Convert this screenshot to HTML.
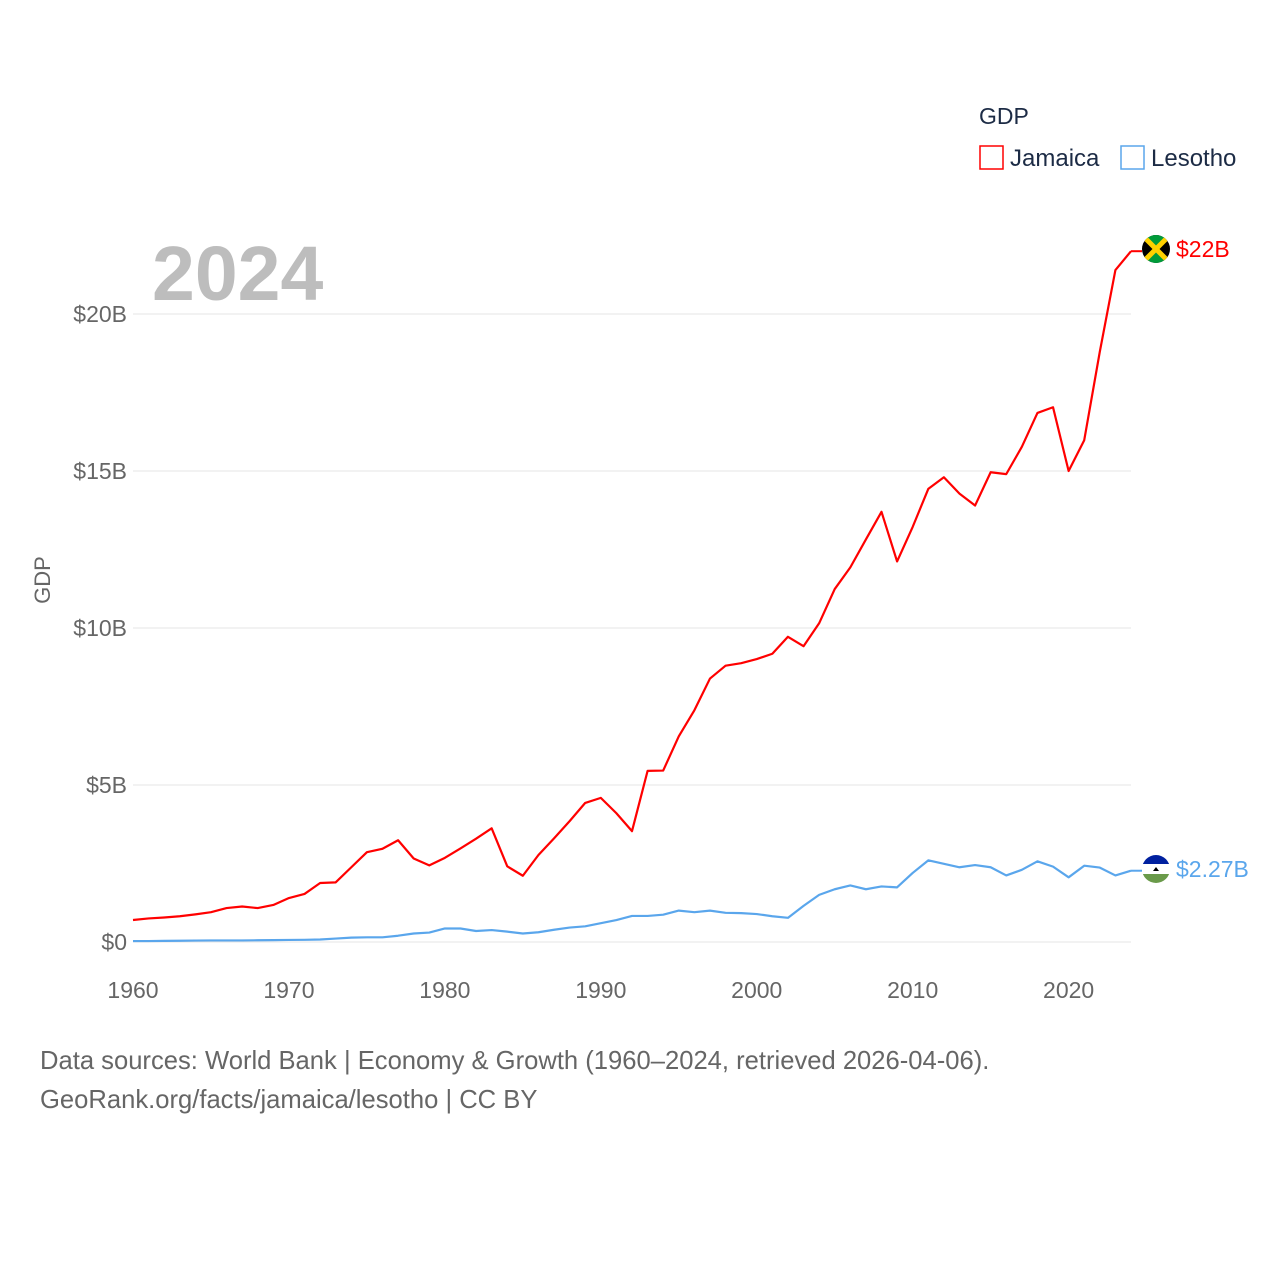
<!DOCTYPE html>
<html><head><meta charset="utf-8"><style>
body{margin:0;background:#fff;font-family:"Liberation Sans",sans-serif}
svg text{font-family:"Liberation Sans",sans-serif}
</style></head><body>
<svg id="chart" width="1280" height="1280" viewBox="0 0 1280 1280">
<g id="grid"></g><g id="axes"></g><g id="lines"></g>
<text x="152" y="300" font-size="77" font-weight="bold" fill="#bdbdbd">2024</text>
<text x="50" y="580" font-size="22" fill="#666" transform="rotate(-90 50 580)" text-anchor="middle">GDP</text>
<text x="979" y="124" font-size="23" fill="#1c2b45">GDP</text>
<g><rect x="980" y="146" width="23" height="23" fill="none" stroke="#f00" stroke-width="1.5"/><text x="1010" y="166" font-size="24" fill="#1c2b45">Jamaica</text></g>
<g><rect x="1121" y="146" width="23" height="23" fill="none" stroke="#5aa6ec" stroke-width="1.5"/><text x="1151" y="166" font-size="24" fill="#1c2b45">Lesotho</text></g>
<g><clipPath id="cj"><circle cx="1156" cy="249" r="14"/></clipPath><g clip-path="url(#cj)"><rect x="1142" y="235" width="28" height="28" fill="#000"/><polygon points="1142,235 1170,235 1156,249" fill="#009b3a"/><polygon points="1142,263 1170,263 1156,249" fill="#009b3a"/><line x1="1142" y1="235" x2="1170" y2="263" stroke="#fed100" stroke-width="5"/><line x1="1170" y1="235" x2="1142" y2="263" stroke="#fed100" stroke-width="5"/></g></g>
<g><clipPath id="cl"><circle cx="1156" cy="869" r="14"/></clipPath><g clip-path="url(#cl)"><rect x="1142" y="855" width="28" height="9" fill="#00209f"/><rect x="1142" y="864" width="28" height="10" fill="#fff"/><rect x="1142" y="874" width="28" height="10" fill="#6a9a4a"/><path d="M1153 871 h6 l-3 -4z" fill="#000"/></g></g>
<text x="1176" y="257" font-size="23" fill="#f00">$22B</text>
<text x="1176" y="877" font-size="23" fill="#5aa6ec">$2.27B</text>
<text x="40" y="1069" font-size="25.6" fill="#666">Data sources: World Bank | Economy &amp; Growth (1960–2024, retrieved 2026-04-06).</text>
<text x="40" y="1108" font-size="25.6" fill="#666">GeoRank.org/facts/jamaica/lesotho | CC BY</text>
</svg>
<script>
const years=[];for(let y=1960;y<=2024;y++)years.push(y);
const jamaica=[0.70,0.75,0.78,0.82,0.88,0.95,1.08,1.13,1.08,1.18,1.40,1.53,1.88,1.90,2.38,2.86,2.97,3.24,2.66,2.44,2.68,2.98,3.29,3.62,2.41,2.11,2.77,3.30,3.85,4.43,4.59,4.10,3.53,5.45,5.46,6.55,7.38,8.39,8.80,8.88,9.01,9.18,9.72,9.42,10.15,11.24,11.93,12.82,13.70,12.12,13.22,14.43,14.80,14.28,13.90,14.96,14.90,15.77,16.85,17.03,15.00,15.98,18.80,21.40,22.00];
const lesotho=[0.03,0.03,0.035,0.04,0.045,0.05,0.05,0.05,0.055,0.06,0.065,0.07,0.08,0.11,0.14,0.15,0.15,0.2,0.27,0.3,0.43,0.43,0.35,0.38,0.33,0.27,0.31,0.39,0.46,0.5,0.6,0.7,0.83,0.83,0.87,1.0,0.95,1.0,0.93,0.92,0.89,0.82,0.77,1.15,1.5,1.68,1.8,1.68,1.77,1.74,2.2,2.6,2.49,2.38,2.45,2.38,2.12,2.3,2.57,2.4,2.06,2.43,2.37,2.12,2.27];
const yTicks=[0,5,10,15,20];
const yTickLabels=["$0","$5B","$10B","$15B","$20B"];
const xTicks=[1960,1970,1980,1990,2000,2010,2020];
const NS="http://www.w3.org/2000/svg";
const X=v=>133+(v-1960)*(1131-133)/64;
const Y=v=>942-v*31.4;
function mk(t,a,p){const e=document.createElementNS(NS,t);for(const k in a)e.setAttribute(k,a[k]);p.appendChild(e);return e;}
const grid=document.getElementById('grid'),axes=document.getElementById('axes'),lines=document.getElementById('lines');
yTicks.forEach((v,i)=>{
 const l=mk('line',{x1:133,x2:1131,y1:Y(v),y2:Y(v),stroke:'#e6e6e6','stroke-width':1},grid);
 
 
 const t=mk('text',{x:127,y:Y(v)+8,'text-anchor':'end','font-size':23,fill:'#666'},axes);
 t.textContent=yTickLabels[i];
 
 
});
xTicks.forEach(v=>{
 const t=mk('text',{x:X(v),y:998,'text-anchor':'middle','font-size':23,fill:'#666'},axes);
 t.textContent=v;
 
 
});
function series(d,c,n){
 const p=mk('polyline',{points:d.map((v,i)=>X(years[i])+','+Y(v)).join(' '),fill:'none',stroke:c,'stroke-width':2.2,'stroke-linejoin':'round'},lines);
 
 
 const last=d[d.length-1];
 mk('line',{x1:X(2024),x2:1142,y1:Y(last),y2:Y(last),stroke:c,'stroke-width':2},lines);
}
series(lesotho,'#5aa6ec','lesotho-line');
series(jamaica,'#f00','jamaica-line');
</script>
</body></html>
